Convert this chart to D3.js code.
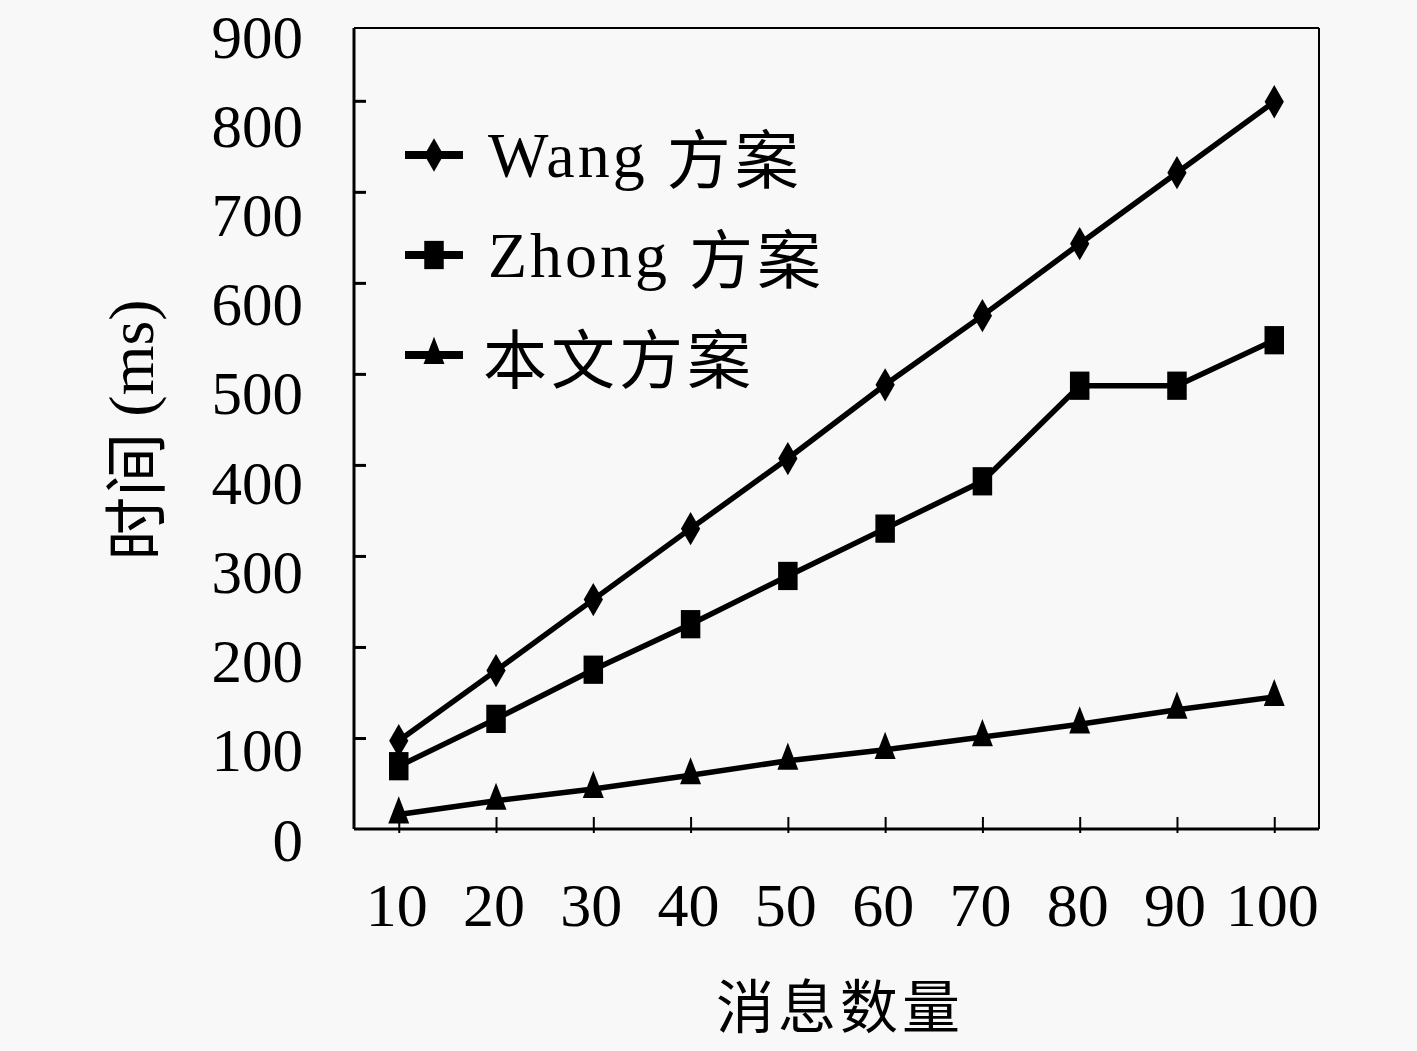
<!doctype html>
<html>
<head>
<meta charset="utf-8">
<script src="https://d3js.org/d3.v7.min.js"></script>
<style>
  body{margin:0;background:#f8f8f8;}
  text{font-family:"Liberation Serif","DejaVu Serif",serif;fill:#000;}
  .cjk{font-family:"Noto Sans CJK SC","Noto Sans CJK JP",sans-serif;}
</style>
</head>
<body>
<svg id="chart"></svg>
<script>
// data
var counts = [10, 20, 30, 40, 50, 60, 70, 80, 90, 100];
var wangTimes  = [97, 174, 252, 330, 407, 488, 564, 643, 721, 799];
var zhongTimes = [69, 121, 175, 225, 278, 330, 382, 487, 487, 537];
var oursTimes  = [16, 31, 44, 59, 75, 87, 101, 115, 131, 145];
var yTickValues = [0, 100, 200, 300, 400, 500, 600, 700, 800, 900];
var seriesNames = ["Wang 方案", "Zhong 方案", "本文方案"];
var xTitle = "消息数量";
var yTitle = "时间 (ms)";

var W = 1417, H = 1051;
var pLeft = 354, pRight = 1319, pTop = 28, pBottom = 829;

var svg = d3.select('#chart').attr('width', W).attr('height', H);
svg.append('rect').attr('width', W).attr('height', H).attr('fill', '#f8f8f8');

var xScale = d3.scalePoint().domain(counts).range([pLeft, pRight]).padding(0.46);
var yScale = d3.scaleLinear().domain([0, 880]).range([pBottom, pTop]);
// tick labels in the original sit a little below their ticks
var yLabelScale = d3.scaleLinear().domain([0, 900]).range([840, 37]);

// frame (top/right thinner)
svg.append('line').attr('x1', pLeft).attr('x2', pRight).attr('y1', pTop).attr('y2', pTop)
  .attr('stroke', '#000').attr('stroke-width', 2);
svg.append('line').attr('x1', pRight).attr('x2', pRight).attr('y1', pTop).attr('y2', pBottom)
  .attr('stroke', '#000').attr('stroke-width', 2);

// axes with inward ticks
var yAxis = d3.axisRight(yScale).tickValues(yTickValues.filter(function(v){return v > 0 && v <= 880;}))
  .tickSize(12).tickFormat('');
var yG = svg.append('g').attr('transform', 'translate(' + pLeft + ',0)').call(yAxis);
yG.select('.domain').attr('stroke-width', 3).attr('d', 'M0,' + pTop + 'V' + pBottom);
yG.selectAll('.tick line').attr('stroke-width', 3);

var xAxis = d3.axisTop(xScale).tickSize(12).tickFormat('');
var xG = svg.append('g').attr('transform', 'translate(0,' + pBottom + ')').call(xAxis);
xG.select('.domain').attr('stroke-width', 3).attr('d', 'M' + pLeft + ',0H' + pRight);
xG.selectAll('.tick line').attr('stroke-width', 2).attr('y2', -12).attr('y1', 4);

// tick labels
svg.append('g').selectAll('text').data(yTickValues).enter().append('text')
  .attr('x', 303).attr('y', function(d){ return yLabelScale(d); })
  .attr('text-anchor', 'end').attr('dominant-baseline', 'central')
  .attr('font-size', 61).text(function(d){ return d; });

svg.append('g').selectAll('text').data(counts).enter().append('text')
  .attr('x', function(d){ return xScale(d) - 2; }).attr('y', 905)
  .attr('text-anchor', 'middle').attr('dominant-baseline', 'central')
  .attr('font-size', 62).text(function(d){ return d; });

// titles
svg.append('text').attr('class', 'cjk').attr('x', 840).attr('y', 1003)
  .attr('text-anchor', 'middle').attr('dominant-baseline', 'central')
  .attr('font-size', 58).attr('letter-spacing', 4).text(xTitle);
svg.append('text').attr('transform', 'translate(131,430) rotate(-90)')
  .attr('text-anchor', 'middle').attr('dominant-baseline', 'central')
  .attr('font-size', 64)
  .call(function(t){
    t.append('tspan').attr('class', 'cjk').text(yTitle.split(' ')[0]);
    t.append('tspan').text(' ' + yTitle.split(' ')[1]);
  });

// markers
var diamond = d3.symbol().type(d3.symbolDiamond).size(320)();
var square = d3.symbol().type(d3.symbolSquare).size(380)();
var triangle = d3.symbol().type(d3.symbolTriangle).size(190)();
var markers = [
  {path: diamond, sy: 1.0},
  {path: square, sy: 1.45},
  {path: triangle, sy: 1.5}
];

var allSeries = [wangTimes, zhongTimes, oursTimes];
var line = d3.line()
  .x(function(d, i){ return xScale(counts[i]); })
  .y(function(d){ return yScale(d); });

allSeries.forEach(function(vals, s){
  svg.append('path').datum(vals).attr('d', line)
    .attr('fill', 'none').attr('stroke', '#000').attr('stroke-width', 5.5);
  svg.append('g').selectAll('path').data(vals).enter().append('path')
    .attr('d', markers[s].path).attr('fill', '#000')
    .attr('transform', function(d, i){
      return 'translate(' + xScale(counts[i]) + ',' + yScale(d) + ') scale(1,' + markers[s].sy + ')';
    });
});

// legend
var legendY = [155, 255, 355];
seriesNames.forEach(function(name, s){
  var g = svg.append('g').attr('transform', 'translate(0,' + legendY[s] + ')');
  g.append('line').attr('x1', 405).attr('x2', 463).attr('y1', 0).attr('y2', 0)
    .attr('stroke', '#000').attr('stroke-width', 8);
  g.append('path').attr('d', markers[s].path).attr('fill', '#000')
    .attr('transform', 'translate(434,0) scale(1,' + markers[s].sy + ')');
  var t = g.append('text').attr('x', s == 2 ? 483 : 488).attr('y', 0)
    .attr('dominant-baseline', 'central').attr('font-size', 64);
  var parts = name.split(' ');
  if (parts.length > 1) {
    t.append('tspan').attr('letter-spacing', 3).text(parts[0] + ' ');
    t.append('tspan').attr('class', 'cjk').attr('letter-spacing', 4).text(parts[1]);
  } else {
    t.append('tspan').attr('class', 'cjk').attr('letter-spacing', 4).text(name);
  }
});
</script>
</body>
</html>
